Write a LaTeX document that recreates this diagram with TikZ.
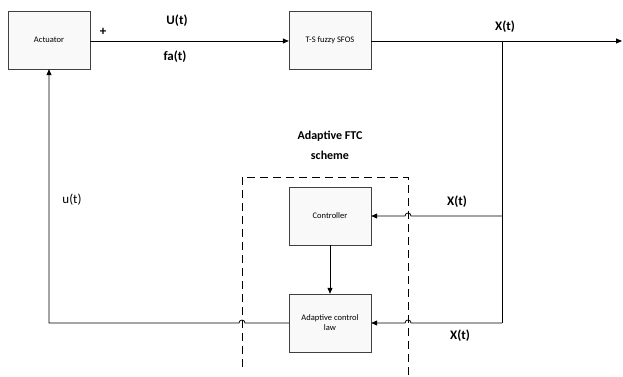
\documentclass[tikz,border=0pt]{standalone}
\usepackage{fontspec}
\setmainfont{Carlito}
\usetikzlibrary{arrows.meta,positioning,shadows}

\tikzset{
    block/.style={draw=black!75, fill=gray!5, minimum width=82pt, minimum height=58pt,
        align=center, font=\fontsize{8.5}{10}\selectfont,
        drop shadow={shadow xshift=1pt, shadow yshift=-1pt, fill=gray!60, opacity=.7}},
    sig/.style={font=\bfseries\fontsize{13}{14}\selectfont},
    wire/.style={line width=0.8pt},
    conn/.style={wire, -{Triangle[length=6pt,width=5pt]}},
    ftcbox/.style={line width=0.8pt, dash pattern=on 8pt off 5pt},
}

\begin{document}
\begin{tikzpicture}[x=1pt,y=-1pt]
    \useasboundingbox (0,0) rectangle (623,377);

    % blocks
    \node[block] (act) at (49,40) {Actuator};
    \node[block] (sfos) at (330,40) {T-S fuzzy SFOS};
    \node[block] (ctrl) at (330,216) {Controller};
    \node[block] (law) at (330,323) {Adaptive control\\law};

    % adaptive FTC scheme frame (open at the bottom)
    \draw[ftcbox] (242,367) -- (242,177) -- (408,177) -- (408,377);
    \node[font=\bfseries\fontsize{12}{20}\selectfont, align=center] (ftc) at (330,145)
        {Adaptive FTC\\scheme};

    \coordinate (out) at (622,41);
    \coordinate (br) at (502,41);
    \coordinate (brc) at (502,216);
    \coordinate (brl) at (502,323);
    \coordinate (fb) at (49,323);

    % forward path
    \draw[conn] (act.east |- br) -- (sfos.west |- br);
    \draw[conn] (sfos.east |- br) -- (out);

    % state feedback with hops over the frame
    \draw[wire] (br) -- (brl);
    \draw[conn] (brc) -- (411,216) arc[start angle=0, end angle=180, radius=3pt]
        -- (ctrl.east);
    \draw[conn] (brl) -- (411,323) arc[start angle=0, end angle=180, radius=3pt]
        -- (law.east);
    \draw[conn] (ctrl) -- (law);

    % control signal back to the actuator
    \draw[conn] (law.west) -- (245,323) arc[start angle=0, end angle=180, radius=3pt]
        -- (fb) -- (act.south);

    % signal labels
    \node[sig] (plus) at (103,32) {+};
    \node[sig] (ut) at (177,21) {U(t)};
    \node[sig] (fat) at (175,57) {fa(t)};
    \node[sig] (xt) at (505,27) {X(t)};
    \node[font=\fontsize{13}{14}\selectfont] (uback) at (72,200) {u(t)};
    \node[sig] (xtc) at (457,202) {X(t)};
    \node[sig] (xtl) at (460,336) {X(t)};
\end{tikzpicture}
\end{document}
